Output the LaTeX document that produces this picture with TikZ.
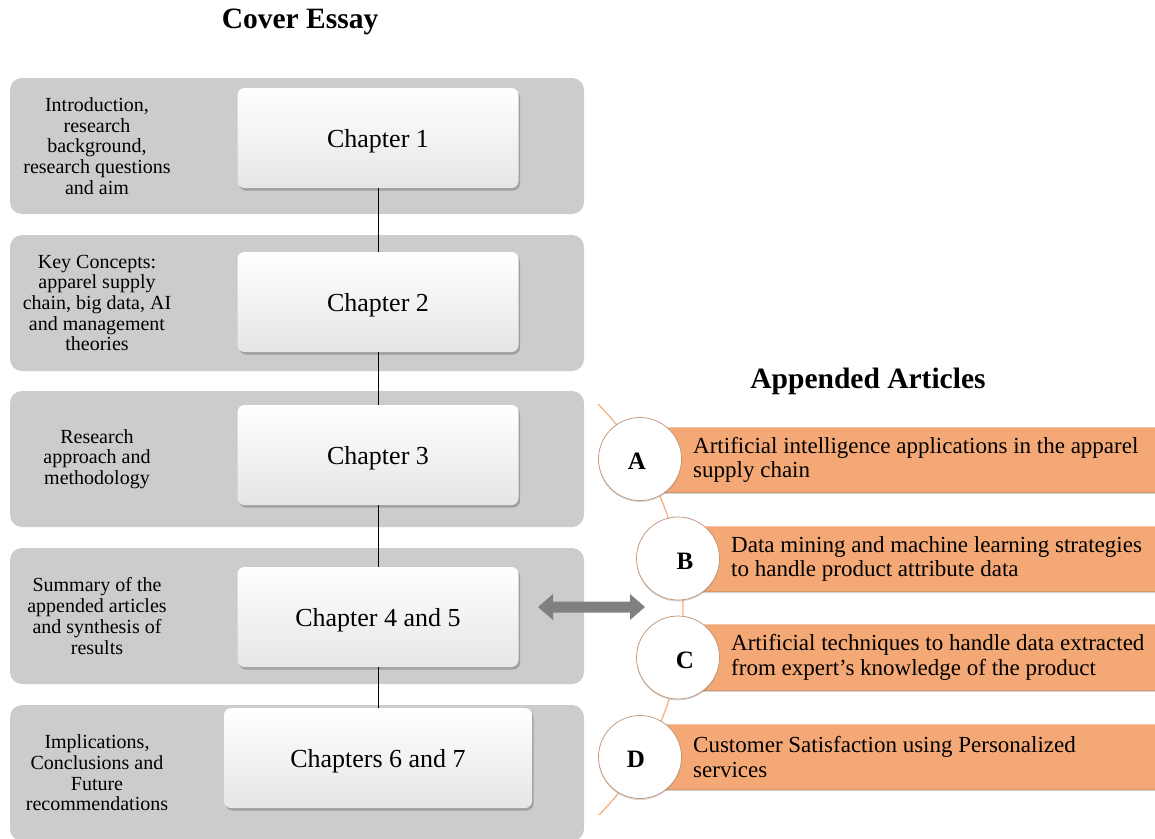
\documentclass[tikz,border=0pt]{standalone}
\usepackage{fontspec}
\setmainfont{Liberation Serif}
\usetikzlibrary{shadows}

\definecolor{panelgray}{RGB}{204,204,204}
\definecolor{barorange}{RGB}{243,168,117}
\definecolor{barlight}{RGB}{246,196,160}
\definecolor{bardark}{RGB}{214,150,108}
\definecolor{arcline}{RGB}{244,177,131}
\definecolor{ringbrown}{RGB}{190,145,115}
\definecolor{arrowgray}{RGB}{128,128,128}

\begin{document}
\begin{tikzpicture}[x=1pt,y=-1pt,
  panel/.style={fill=panelgray, rounded corners=12pt, minimum width=574pt,
    minimum height=136pt, inner sep=0pt},
  chapbox/.style={rounded corners=7pt, top color=white, bottom color=black!10,
    minimum height=100pt, inner sep=0pt, text depth=0pt,
    font=\fontsize{26}{30}\selectfont,
    drop shadow={shadow xshift=1.5pt, shadow yshift=-2.5pt, opacity=0.5, fill=black!55}},
  sidetext/.style={align=center, inner sep=0pt, font=\fontsize{20}{20.7}\selectfont},
  link/.style={draw=black, line width=0.8pt},
  bar/.style={fill=barorange, minimum height=65pt, minimum width=530pt,
    inner sep=0pt, anchor=west,
    drop shadow={shadow xshift=0pt, shadow yshift=-1.5pt, opacity=0.35, fill=black!50}},
  ring/.style={circle, draw=ringbrown, line width=0.7pt, fill=white,
    minimum size=83pt, inner sep=0pt,
    drop shadow={shadow xshift=0pt, shadow yshift=-1.5pt, opacity=0.3, fill=black!50}},
  letter/.style={inner sep=0pt, font=\bfseries\fontsize{25}{25}\selectfont},
  article/.style={anchor=west, align=left, inner sep=0pt,
    font=\fontsize{23}{24.5}\selectfont},
  heading/.style={inner sep=0pt, font=\bfseries\fontsize{29.5}{32}\selectfont},
]
\useasboundingbox (0,0) rectangle (1155,838);

% ---- Cover essay column ----
\node[heading] (covertitle) at (300,22) {Cover Essay};

\node[panel] (p1) at (297,146) {};
\node[panel] (p2) at (297,303) {};
\node[panel] (p3) at (297,459) {};
\node[panel] (p4) at (297,616) {};
\node[panel] (p5) at (297,773) {};

\node[sidetext] (s1) at (97,146) {Introduction,\\research\\background,\\research questions\\and aim};
\node[sidetext] (s2) at (97,303) {Key Concepts:\\apparel supply\\chain, big data, AI\\and management\\theories};
\node[sidetext] (s3) at (97,459) {Research\\approach and\\methodology};
\node[sidetext] (s4) at (97,616) {Summary of the\\appended articles\\and synthesis of\\results};
\node[sidetext] (s5) at (97,773) {Implications,\\Conclusions and\\Future\\recommendations};

\node[chapbox, minimum width=281pt] (c1) at (378,138) {Chapter 1};
\node[chapbox, minimum width=281pt] (c2) at (378,302) {Chapter 2};
\node[chapbox, minimum width=281pt] (c3) at (378,455) {Chapter 3};
\node[chapbox, minimum width=281pt] (c4) at (378,617) {Chapter 4 and 5};
\node[chapbox, minimum width=308pt] (c5) at (378,758) {Chapters 6 and 7};

\draw[link] (c1.south) -- (c2.north);
\draw[link] (c2.south) -- (c3.north);
\draw[link] (c3.south) -- (c4.north);
\draw[link] (c4.south) -- (c5.north);

% ---- two-way arrow between the essay and the articles ----
\fill[arrowgray] (538,607) -- (553,594) -- (553,601.5) -- (630,601.5) -- (630,594)
  -- (645,607) -- (630,620) -- (630,612.5) -- (553,612.5) -- (553,620) -- cycle;

% ---- Appended articles ----
\node[heading] (arttitle) at (868,381) {Appended Articles};

\begin{scope}
  \clip (596,404) rectangle (720,814);
  \draw[arcline, line width=1.3pt] (391,610) circle[radius=292pt];
\end{scope}

\node[bar] (barA) at (640,460) {};
\node[bar] (barB) at (678,559) {};
\node[bar] (barC) at (678,657.5) {};
\node[bar] (barD) at (640,757) {};
\foreach \b in {barA,barB,barC,barD}{
  \draw[barlight, line width=1.2pt] (\b.north west) -- (\b.north east);
  \draw[bardark, line width=1.2pt] (\b.south west) -- (\b.south east);
}

\node[ring] (rA) at (640,459) {};
\node[ring] (rB) at (678,558.5) {};
\node[ring] (rC) at (678,657.5) {};
\node[ring] (rD) at (640,757) {};

\node[letter] (lA) at (637,461) {A};
\node[letter] (lB) at (685,561) {B};
\node[letter] (lC) at (685,660) {C};
\node[letter] (lD) at (636,759) {D};

\node[article] (tA) at (693,460) {Artificial intelligence applications in the apparel\\supply chain};
\node[article] (tB) at (731,559) {Data mining and machine learning strategies\\to handle product attribute data};
\node[article] (tC) at (731,657.5) {Artificial techniques to handle data extracted\\from expert’s knowledge of the product};
\node[article] (tD) at (693,757) {Customer Satisfaction using Personalized\\services};

\end{tikzpicture}
\end{document}
